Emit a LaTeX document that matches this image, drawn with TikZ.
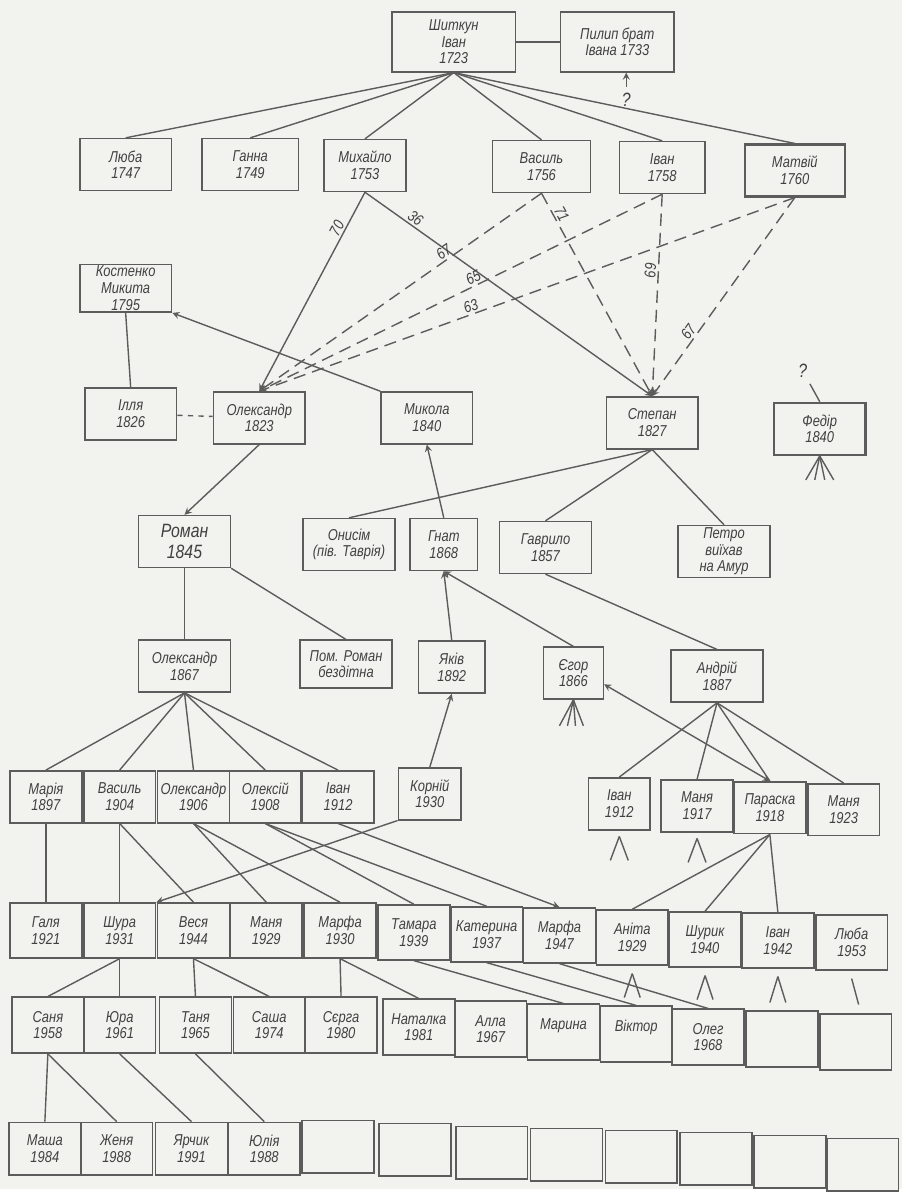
\documentclass[tikz,border=0pt]{standalone}
\usepackage{fontspec}
\newfontfamily\hand[FakeStretch=0.82]{Liberation Sans}
\usetikzlibrary{arrows}
\definecolor{paper}{RGB}{242,242,239}
\definecolor{ink}{RGB}{92,92,92}
\tikzstyle{wbox} = [rectangle, draw=ink, line width=0.9pt, fill=paper, minimum width=1.84cm, minimum height=1.04cm, inner sep=1pt, align=center, text=ink!70!black, font=\hand\itshape\fontsize{9}{9.5}\selectfont]
\tikzstyle{nbox} = [wbox, minimum width=1.44cm]
\tikzstyle{link} = [draw=ink, line width=0.8pt]
\tikzstyle{arrow} = [link, ->, >=stealth]
\tikzstyle{guess} = [arrow, dash pattern=on 7pt off 4pt]
\tikzstyle{num} = [font=\hand\itshape\fontsize{9}{9}\selectfont, text=ink!70!black, sloped, above, inner sep=1pt]

\begin{document}
\begin{tikzpicture}[x=0.02cm, y=-0.02cm]
        \fill[paper] (0,0) rectangle (904,1192);

        % first generations
        \node[wbox, minimum width=2.48cm, minimum height=1.2cm](ivan) at (455,42){Шиткун\\Іван\\1723};
        \node[wbox, minimum width=2.28cm, minimum height=1.2cm](pylyp) at (619,42){Пилип брат\\Івана 1733};
        \node[wbox](liuba) at (126,165){Люба\\1747};
        \node[wbox, minimum width=1.94cm](hanna) at (251,165){Ганна\\1749};
        \node[wbox, minimum width=1.64cm](mykhailo) at (366,166){Михайло\\1753};
        \node[wbox, minimum width=1.96cm](vasyl) at (543,167){Василь\\1756};
        \node[wbox, minimum width=1.72cm](ivan2) at (664,168){Іван\\1758};
        \node[wbox, minimum width=2.0cm, line width=1.3pt](matvii) at (797,171){Матвій\\1760};
        \node[font=\hand\itshape\fontsize{11}{11}\selectfont, text=ink!70!black](qp) at (628,100){?};

        \node[wbox, minimum height=0.94cm](mykyta) at (126,289){Костенко\\Микита\\1795};
        \node[wbox](illia) at (131,415){Ілля\\1826};
        \node[wbox](oleks) at (260,419){Олександр\\1823};
        \node[wbox](mykola) at (428,419){Микола\\1840};
        \node[wbox](stepan) at (654,424){Степан\\1827};
        \node[wbox, line width=1.4pt](fedir) at (822,430){Федір\\1840};
        \node[font=\hand\itshape\fontsize{11}{11}\selectfont, text=ink!70!black](qf) at (805,372){?};

        \node[wbox, font=\hand\itshape\fontsize{11}{12}\selectfont](roman) at (185,543){Роман\\1845};
        \node[wbox](onysym) at (350,546){Онисім\\(пів. Таврія)};
        \node[wbox, minimum width=1.36cm](hnat) at (445,546){Гнат\\1868};
        \node[wbox](havrylo) at (547,549){Гаврило\\1857};
        \node[wbox](petro) at (726,553){Петро\\виїхав\\на Амур};

        \node[wbox](oleks2) at (185,668){Олександр\\1867};
        \node[wbox, minimum height=0.96cm](pomroman) at (347,666){Пом. Роман\\бездітна};
        \node[wbox, minimum width=1.34cm](yakiv) at (453,669){Яків\\1892};
        \node[wbox, minimum width=1.2cm](yehor) at (575,675){Єгор\\1866};
        \node[wbox](andrii) at (719,678){Андрій\\1887};

        % 1897 - 1930
        \node[nbox](maria) at (46,799){Марія\\1897};
        \node[nbox](vasyl3) at (120,799){Василь\\1904};
        \node[nbox](oleks3) at (194,799){Олександр\\1906};
        \node[nbox](oleksii) at (266,799){Олексій\\1908};
        \node[nbox](ivan3) at (339,799){Іван\\1912};
        \node[nbox, minimum width=1.26cm](kornii) at (431,796){Корній\\1930};
        \node[nbox, minimum width=1.24cm](ivan4) at (621,806){Іван\\1912};
        \node[nbox](manya1) at (699,808){Маня\\1917};
        \node[nbox](paraska) at (772,810){Параска\\1918};
        \node[nbox](manya2) at (846,812){Маня\\1923};

        % 1921 - 1953
        \node[nbox, minimum height=1.1cm](halia) at (46,933){Галя\\1921};
        \node[nbox, minimum height=1.1cm](shura) at (120,933){Шура\\1931};
        \node[nbox, minimum height=1.1cm](vesia) at (194,933){Веся\\1944};
        \node[nbox, minimum height=1.1cm](manya3) at (267,933){Маня\\1929};
        \node[nbox, minimum height=1.1cm](marfa) at (341,933){Марфа\\1930};
        \node[nbox, minimum height=1.1cm](tamara) at (415,935){Тамара\\1939};
        \node[nbox, minimum height=1.1cm](kateryna) at (488,937){Катерина\\1937};
        \node[nbox, minimum height=1.1cm](marfa2) at (561,938){Марфа\\1947};
        \node[nbox, minimum height=1.1cm](anita) at (634,940){Аніта\\1929};
        \node[nbox, minimum height=1.1cm](shuryk) at (707,942){Шурик\\1940};
        \node[nbox, minimum height=1.1cm](ivan5) at (780,943){Іван\\1942};
        \node[nbox, minimum height=1.1cm](liuba2) at (854,945){Люба\\1953};

        % 1958 - 1981
        \node[nbox, minimum height=1.12cm](sania) at (48,1028){Саня\\1958};
        \node[nbox, minimum height=1.12cm](yura) at (120,1028){Юра\\1961};
        \node[nbox, minimum height=1.12cm](tania) at (196,1028){Таня\\1965};
        \node[nbox, minimum height=1.12cm](sasha) at (270,1028){Саша\\1974};
        \node[nbox, minimum height=1.12cm](serha) at (342,1028){Сєрга\\1980};
        \node[nbox, minimum height=1.12cm](natalka) at (420,1030){Наталка\\1981};
        \node[nbox, minimum height=1.12cm](alla) at (492,1032){Алла\\1967};
        \node[nbox, minimum height=1.12cm](maryna) at (565,1035){Марина\\~};
        \node[nbox, minimum height=1.12cm](viktor) at (638,1037){Віктор\\~};
        \node[nbox, minimum height=1.12cm](oleh) at (710,1040){Олег\\1968};
        \node[nbox, minimum height=1.12cm](e81) at (784,1042){};
        \node[nbox, minimum height=1.12cm](e82) at (858,1045){};

        % 1984 - 1991
        \node[nbox, minimum height=1.06cm](masha) at (45,1152){Маша\\1984};
        \node[nbox, minimum height=1.06cm](zhenia) at (117,1152){Женя\\1988};
        \node[nbox, minimum height=1.06cm](yaryk) at (192,1152){Ярчик\\1991};
        \node[nbox, minimum height=1.06cm](yulia) at (265,1152){Юлія\\1988};
        \node[nbox, minimum height=1.06cm](e91) at (339,1150){};
        \node[nbox, minimum height=1.06cm](e92) at (416,1153){};
        \node[nbox, minimum height=1.06cm](e93) at (493,1156){};
        \node[nbox, minimum height=1.06cm](e94) at (568,1158){};
        \node[nbox, minimum height=1.06cm](e95) at (643,1160){};
        \node[nbox, minimum height=1.06cm](e96) at (718,1162){};
        \node[nbox, minimum height=1.06cm](e97) at (792,1165){};
        \node[nbox, minimum height=1.06cm](e98) at (865,1168){};

        \draw [link](ivan)--(pylyp);
        \draw [arrow](qp)--(pylyp.south -| qp);
        \draw [link](qf)--(fedir.north);
        \draw [link](ivan.south)--(liuba.north);
        \draw [link](ivan.south)--(hanna.north);
        \draw [link](ivan.south)--(mykhailo.north);
        \draw [link](ivan.south)--(vasyl.north);
        \draw [link](ivan.south)--(ivan2.north);
        \draw [link](ivan.south)--(matvii.north);

        \draw [arrow](mykhailo.south)--node[num,pos=0.2]{70}(oleks.north);
        \draw [arrow](mykhailo.south)--node[num,pos=0.16]{36}(stepan.north);
        \draw [guess](vasyl.south)--node[num,pos=0.33]{67}(oleks.north);
        \draw [guess](ivan2.south)--node[num,pos=0.46]{65}(oleks.north);
        \draw [guess](matvii.south)--node[num,pos=0.6]{63}(oleks.north);
        \draw [guess](vasyl.south)--node[num,pos=0.12]{71}(stepan.north);
        \draw [guess](ivan2.south)--node[num,pos=0.38]{69}(stepan.north);
        \draw [guess](matvii.south)--node[num,pos=0.7]{67}(stepan.north);

        \draw [link](illia.north)--(mykyta.south);
        \draw [link,dashed](illia)--(oleks);
        \draw [arrow](mykola.north west)--(mykyta.south east);
        \foreach \d in {-14,-5,5,14} \draw [link](fedir.south)--++(\d,24);

        \draw [arrow](oleks.south)--(roman.north);
        \draw [link](stepan.south)--(onysym.north);
        \draw [link](stepan.south)--(havrylo.north);
        \draw [link](stepan.south)--(petro.north);
        \draw [arrow](hnat.north)--(mykola.south);

        \draw [link](roman.south)--(oleks2.north);
        \draw [link](roman.south east)--(pomroman.north);
        \draw [arrow](yakiv.north)--(hnat.south);
        \draw [arrow](yehor.north)--(hnat.south);
        \draw [link](havrylo.south)--(andrii.north);
        \foreach \d in {-14,-6,2,10} \draw [link](yehor.south)--++(\d,26);
        \draw [link,<->,>=stealth](yehor.-20)--(paraska.north);

        \draw [link](oleks2.south)--(maria.north);
        \draw [link](oleks2.south)--(vasyl3.north);
        \draw [link](oleks2.south)--(oleks3.north);
        \draw [link](oleks2.south)--(oleksii.north);
        \draw [link](oleks2.south)--(ivan3.north);
        \draw [arrow](kornii.north)--(yakiv.south);
        \draw [arrow](kornii.south west)--(shura.north east);
        \draw [link](andrii.south)--(ivan4.north);
        \draw [link](andrii.south)--(manya1.north);
        \draw [link](andrii.south)--(paraska.north);
        \draw [link](andrii.south)--(manya2.north);
        \foreach \d in {-9,9} \draw [link](ivan4.south)++(0,6)--++(\d,24);
        \foreach \d in {-9,9} \draw [link](manya1.south)++(0,6)--++(\d,24);

        \draw [link](maria.south)--(halia.north);
        \draw [link](vasyl3.south)--(shura.north);
        \draw [link](vasyl3.south)--(vesia.north);
        \draw [link](oleks3.south)--(manya3.north);
        \draw [link](oleks3.south)--(marfa.north);
        \draw [link](oleksii.south)--(tamara.north);
        \draw [link](oleksii.south)--(kateryna.north);
        \draw [arrow](ivan3.south)--(marfa2.north);
        \draw [link](paraska.south)--(anita.north);
        \draw [link](paraska.south)--(shuryk.north);
        \draw [link](paraska.south)--(ivan5.north);
        \foreach \d in {-8,8} \draw [link](anita.south)++(0,8)--++(\d,24);
        \foreach \d in {-8,8} \draw [link](shuryk.south)++(0,8)--++(\d,24);
        \foreach \d in {-8,8} \draw [link](ivan5.south)++(0,8)--++(\d,26);
        \draw [link](liuba2.south)++(0,8)--++(7,26);

        \draw [link](shura.south)--(sania.north);
        \draw [link](shura.south)--(yura.north);
        \draw [link](vesia.south)--(tania.north);
        \draw [link](vesia.south)--(sasha.north);
        \draw [link](marfa.south)--(serha.north);
        \draw [link](marfa.south)--(natalka.north);
        \draw [link](tamara.south)--(maryna.north);
        \draw [link](kateryna.south)--(viktor.north);
        \draw [link](marfa2.south)--(oleh.north);

        \draw [link](sania.south)--(masha.north);
        \draw [link](sania.south)--(zhenia.north);
        \draw [link](yura.south)--(yaryk.north);
        \draw [link](tania.south)--(yulia.north);

\end{tikzpicture}
\end{document}
